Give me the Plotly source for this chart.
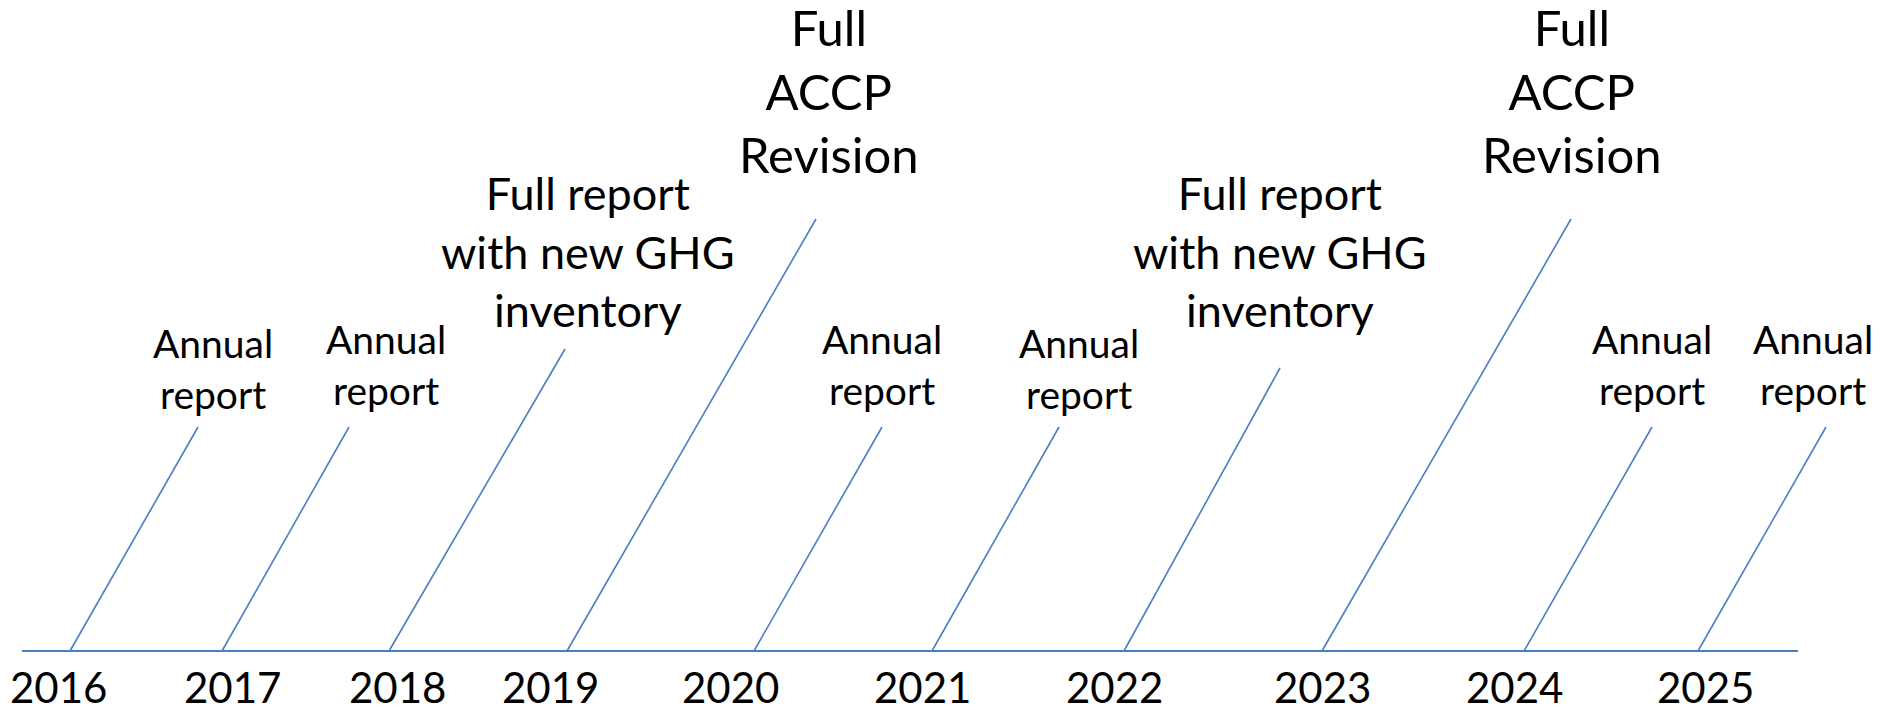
import plotly.graph_objects as go

# timeline (pixel units, y grows downward)
years = [2016, 2017, 2018, 2019, 2020, 2021, 2022, 2023, 2024, 2025]
year_x = [58, 232, 397, 550, 730, 922, 1114, 1322, 1514, 1705]
year_y = 704  # baseline of the year labels

axis_x = [22, 1798]
axis_y = 651

events = ["Annual<br>report", "Annual<br>report", "Full report<br>with new GHG<br>inventory",
          "Full<br>ACCP<br>Revision", "Annual<br>report", "Annual<br>report",
          "Full report<br>with new GHG<br>inventory", "Full<br>ACCP<br>Revision",
          "Annual<br>report", "Annual<br>report"]
base_x = [70, 222, 389, 567, 754, 932, 1124, 1322, 1524, 1698]
top_x = [198, 349, 565, 816, 882, 1059, 1280, 1571, 1652, 1826]
top_y = [427, 427, 349, 219, 427, 427, 368, 219, 427, 427]
label_x = [213, 386, 588, 829, 882, 1079, 1280, 1572, 1652, 1813]
label_y = [410, 406, 328, 173, 406, 410, 328, 173, 406, 406]  # baseline of last line

blue = "#4A7EC2"
font = "Lato, Open Sans, sans-serif"
sizes = {"Annual<br>report": 39, "Full report<br>with new GHG<br>inventory": 45,
         "Full<br>ACCP<br>Revision": 49}
year_size = 42

fig = go.Figure()

fig.add_trace(go.Scatter(x=axis_x, y=[axis_y, axis_y], mode="lines",
                         line=dict(color=blue, width=2.2), hoverinfo="skip"))

for i in range(len(years)):
    fig.add_trace(go.Scatter(x=[base_x[i], top_x[i]], y=[axis_y, top_y[i]], mode="lines",
                             line=dict(color=blue, width=1.6), hoverinfo="skip"))
    s = sizes[events[i]]
    fig.add_annotation(x=label_x[i], y=label_y[i], text=events[i], showarrow=False,
                       xanchor="center", yanchor="bottom", align="center",
                       yshift=-0.24 * s, font=dict(family=font, size=s, color="black"))
    fig.add_annotation(x=year_x[i], y=year_y, text=str(years[i]), showarrow=False,
                       xanchor="center", yanchor="bottom", yshift=-0.24 * year_size,
                       font=dict(family=font, size=year_size, color="black"))

# the page body adds an 8px offset, so the ranges start at 8
fig.update_layout(width=1881, height=710, margin=dict(l=0, r=0, t=0, b=0),
                  paper_bgcolor="white", plot_bgcolor="white", showlegend=False,
                  xaxis=dict(range=[8, 1889], visible=False, fixedrange=True),
                  yaxis=dict(range=[718, 8], visible=False, fixedrange=True))

fig.write_html("out.html")
